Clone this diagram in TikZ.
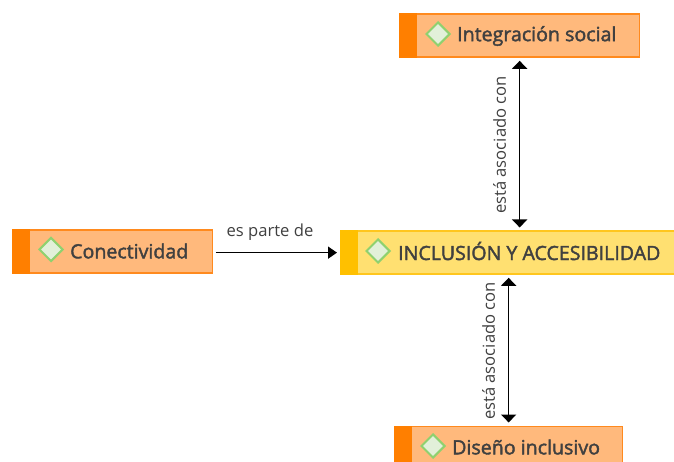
\documentclass[tikz,border=0pt]{standalone}
\usepackage{fontspec}
\setmainfont{Open Sans}
\newfontfamily\labfont[FakeBold=2]{Open Sans}
\usetikzlibrary{shapes.geometric,arrows.meta}
\definecolor{ofill}{HTML}{FFB97C}
\definecolor{oline}{HTML}{FF8A1E}
\definecolor{ostripe}{HTML}{FF7F00}
\definecolor{yfill}{HTML}{FFE071}
\definecolor{yline}{HTML}{FFC61E}
\definecolor{ystripe}{HTML}{FFC000}
\definecolor{dfill}{HTML}{E2F0D9}
\definecolor{dline}{HTML}{8FD16F}
\definecolor{txt}{HTML}{404040}
\tikzset{
  x=1bp,y=-1bp,
  box/.style={rectangle,draw=oline,fill=ofill,line width=1.3bp,minimum height=43bp,inner sep=0pt,anchor=north west},
  yellowbox/.style={box,draw=yline,fill=yfill},
  stripe/.style={fill=ostripe,draw=none},
  ystripefill/.style={fill=ystripe,draw=none},
  gem/.style={diamond,aspect=1,draw=dline,fill=dfill,line width=2bp,minimum size=24bp,inner sep=0pt},
  lab/.style={text=txt,font=\labfont\fontsize{19.6bp}{22bp}\selectfont,anchor=west,inner sep=0pt},
  conn/.style={line width=1.6bp,draw=black,-{Triangle[length=9bp,width=12bp]}},
  bi/.style={line width=1.6bp,draw=black,{Triangle[length=8bp,width=15bp]}-{Triangle[length=8bp,width=15bp]},shorten >=3bp,shorten <=3bp},
  tag/.style={text=txt,font=\fontsize{16.6bp}{19bp}\selectfont,inner sep=0pt}
}
\begin{document}
\begin{tikzpicture}
\path[use as bounding box] (0,0) rectangle (674,462);
\clip (0,0) rectangle (674,462);
% boxes
\node[box,minimum width=240bp] (int) at (399,13.5) {};
\node[box,minimum width=199.5bp] (con) at (12,229.5) {};
\node[yellowbox,minimum width=345bp] (inc) at (340,230.5) {};
\node[box,minimum width=228bp] (dis) at (394,425.5) {};
% stripes
\fill[stripe] (int.north west) rectangle ([xshift=18bp]int.south west);
\fill[stripe] (con.north west) rectangle ([xshift=18bp]con.south west);
\fill[ystripefill] (inc.north west) rectangle ([xshift=18bp]inc.south west);
\fill[stripe] (dis.north west) rectangle ([xshift=18bp]dis.south west);
% diamonds
\node[gem] (gi) at (438,34) {};
\node[gem] (gc) at (51,249.5) {};
\node[gem] (gn) at (378,251) {};
\node[gem] (gd) at (433,446) {};
% labels
\node[lab] (li) at (457,36) {Integración social};
\node[lab] (lc) at (70,251) {Conectividad};
\node[lab] (ln) at (398,251) {INCLUSIÓN Y ACCESIBILIDAD};
\node[lab] (ld) at (452,447) {Diseño inclusivo};
% connectors
\draw[conn] ([xshift=3bp]con.east |- inc.west) -- ([xshift=-3bp]inc.west);
\draw[bi] (int.south) -- (int.south |- inc.north);
\draw[bi] (dis.north |- inc.south) -- (dis.north);
% connector labels
\node[tag] (t1) at (270,232.5) {es parte de};
\node[tag,rotate=90] (t2) at (499.5,145) {está asociado con};
\node[tag,rotate=90] (t3) at (488.5,351) {está asociado con};
\end{tikzpicture}
\end{document}
